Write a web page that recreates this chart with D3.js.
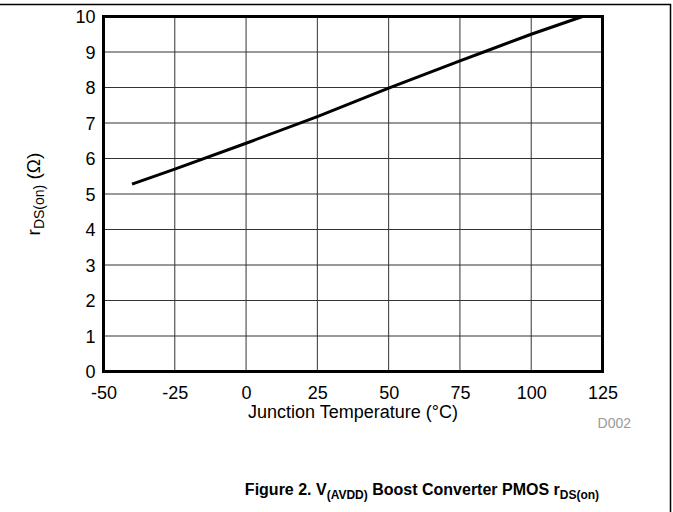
<!DOCTYPE html>
<html>
<head>
<meta charset="utf-8">
<script src="https://cdn.jsdelivr.net/npm/d3@7"></script>
<style>
  html, body { margin: 0; padding: 0; background: #fff; }
  svg { display: block; }
  text { font-family: "Liberation Sans", Arial, sans-serif; }
</style>
</head>
<body>
<svg id="chart" width="673" height="512"></svg>
<script>
// Data
const temperatures = [-40, -25, 0, 25, 50, 75, 85, 100, 118];
const rdsOn = [5.28, 5.70, 6.43, 7.18, 7.98, 8.75, 9.05, 9.50, 10.0];
const xTicks = [-50, -25, 0, 25, 50, 75, 100, 125];
const yTicks = [0, 1, 2, 3, 4, 5, 6, 7, 8, 9, 10];

const svg = d3.select("#chart");
const W = 673, H = 512;
const m = { left: 103.5, right: 602.5, top: 16.5, bottom: 371.5 };

const x = d3.scaleLinear().domain([-50, 125]).range([m.left, m.right]);
const y = d3.scaleLinear().domain([0, 10]).range([m.bottom, m.top]);

// outer frame (top and right edges)
svg.append("path")
  .attr("d", `M0,4.5 H670.5 V${H}`)
  .attr("fill", "none").attr("stroke", "#000").attr("stroke-width", 1.5);

// grid
const g = svg.append("g");
g.selectAll(".vg").data(xTicks).enter().append("line")
  .attr("x1", d => x(d)).attr("x2", d => x(d))
  .attr("y1", m.top).attr("y2", m.bottom)
  .attr("stroke", "#333").attr("stroke-width", 1);
g.selectAll(".hg").data(yTicks).enter().append("line")
  .attr("x1", m.left).attr("x2", m.right)
  .attr("y1", d => y(d)).attr("y2", d => y(d))
  .attr("stroke", "#333").attr("stroke-width", 1);

// axes labels via d3 axes (no lines)
const xAxis = svg.append("g").attr("transform", `translate(0,${m.bottom})`)
  .call(d3.axisBottom(x).tickValues(xTicks).tickSize(0).tickPadding(0).tickFormat(d => String(d)));
xAxis.select(".domain").remove();
xAxis.selectAll("text").attr("font-size", 18).attr("fill", "#000")
  .attr("font-family", "Liberation Sans, Arial, sans-serif")
  .attr("dy", null).attr("y", 27.5);

const yAxis = svg.append("g").attr("transform", `translate(${m.left},0)`)
  .call(d3.axisLeft(y).tickValues(yTicks).tickSize(0).tickPadding(8).tickFormat(d => String(d)));
yAxis.select(".domain").remove();
yAxis.selectAll("text").attr("font-size", 18).attr("fill", "#000")
  .attr("font-family", "Liberation Sans, Arial, sans-serif")
  .attr("dy", "0.36em");

// plot border
svg.append("rect")
  .attr("x", m.left).attr("y", m.top)
  .attr("width", m.right - m.left).attr("height", m.bottom - m.top)
  .attr("fill", "none").attr("stroke", "#000").attr("stroke-width", 3);

// data line
const line = d3.line().x((d, i) => x(temperatures[i])).y(d => y(d));
svg.append("path").datum(rdsOn)
  .attr("d", line)
  .attr("fill", "none").attr("stroke", "#000").attr("stroke-width", 3);

// x title
svg.append("text").attr("x", (m.left + m.right) / 2).attr("y", 418)
  .attr("text-anchor", "middle").attr("font-size", 18)
  .text("Junction Temperature (°C)");

// y title
const yt = svg.append("text")
  .attr("transform", `translate(40,${(m.top + m.bottom) / 2}) rotate(-90)`)
  .attr("text-anchor", "middle").attr("font-size", 19);
yt.append("tspan").text("r");
yt.append("tspan").attr("font-size", 14).attr("dy", 4).text("DS(on)");
yt.append("tspan").attr("dy", -4).text(" (Ω)");

// D002
svg.append("text").attr("x", 631).attr("y", 428)
  .attr("text-anchor", "end").attr("font-size", 14).attr("fill", "#999")
  .text("D002");

// caption
const cap = svg.append("text").attr("x", 422).attr("y", 495)
  .attr("text-anchor", "middle").attr("font-size", 16).attr("font-weight", "bold");
cap.append("tspan").text("Figure 2. V");
cap.append("tspan").attr("font-size", 12).attr("dy", 4).text("(AVDD)");
cap.append("tspan").attr("dy", -4).text(" Boost Converter PMOS r");
cap.append("tspan").attr("font-size", 12).attr("dy", 4).text("DS(on)");
</script>
</body>
</html>
